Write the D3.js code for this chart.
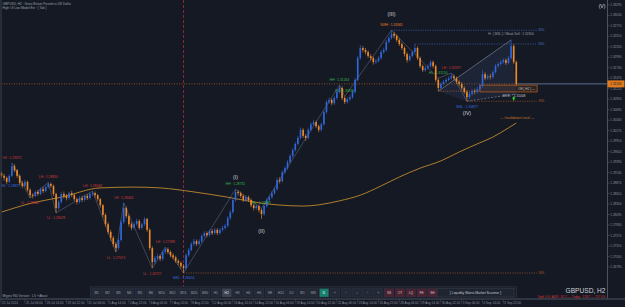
<!DOCTYPE html>
<html>
<head>
<meta charset="utf-8">
<script src="https://cdn.jsdelivr.net/npm/d3@7"></script>
<style>
html, body { margin: 0; padding: 0; background: #151924; }
svg { display: block; }
text { font-family: "Liberation Sans", Arial, sans-serif; }
</style>
</head>
<body>
<div id="chart"></div>
<script>
// GBPUSD H2 - price data (one candle per ~4h of the picture)
const firstOpen = 1.2912;
const closes = [
  1.2905,1.2900,1.2890,1.2905,1.2929,1.2919,1.2905,1.2887,1.2880,1.2890,
  1.2870,1.2857,1.2855,1.2865,1.2860,1.2872,1.2867,1.2877,1.2885,1.2880,
  1.2860,1.2825,1.2840,1.2860,1.2855,1.2850,1.2862,1.2857,1.2847,1.2840,
  1.2850,1.2845,1.2855,1.2850,1.2860,1.2862,1.2857,1.2847,1.2832,1.2808,
  1.2785,1.2766,1.2751,1.2736,1.2726,1.2746,1.2790,1.2825,1.2805,1.2785,
  1.2776,1.2785,1.2793,1.2776,1.2785,1.2798,1.2771,1.2726,1.2691,1.2701,
  1.2706,1.2699,1.2716,1.2723,1.2716,1.2708,1.2703,1.2694,1.2689,1.2681,
  1.2676,1.2708,1.2721,1.2736,1.2743,1.2736,1.2743,1.2756,1.2763,1.2758,
  1.2768,1.2763,1.2771,1.2763,1.2771,1.2776,1.2781,1.2800,1.2815,1.2845,
  1.2865,1.2862,1.2855,1.2845,1.2852,1.2845,1.2832,1.2825,1.2830,1.2820,
  1.2810,1.2830,1.2845,1.2852,1.2862,1.2872,1.2895,1.2892,1.2914,1.2924,
  1.2939,1.2954,1.2969,1.2984,1.2999,1.3019,1.3004,1.2999,1.3019,1.3033,
  1.3038,1.3028,1.3019,1.3033,1.3063,1.3088,1.3093,1.3085,1.3098,1.3113,
  1.3123,1.3098,1.3088,1.3095,1.3100,1.3113,1.3143,1.3197,1.3222,1.3217,
  1.3212,1.3202,1.3197,1.3187,1.3190,1.3197,1.3212,1.3217,1.3237,1.3247,
  1.3257,1.3252,1.3242,1.3232,1.3222,1.3207,1.3192,1.3202,1.3212,1.3222,
  1.3197,1.3177,1.3167,1.3172,1.3177,1.3187,1.3177,1.3143,1.3123,1.3133,
  1.3138,1.3143,1.3147,1.3152,1.3147,1.3138,1.3133,1.3123,1.3113,1.3100,
  1.3108,1.3115,1.3113,1.3120,1.3128,1.3157,1.3147,1.3152,1.3150,1.3162,
  1.3177,1.3182,1.3187,1.3192,1.3185,1.3197,1.3227,1.3187,1.3133
];
const highs = [
  1.2916,1.2910,1.2903,1.2909,1.2937,1.2934,1.2922,1.2908,1.2892,1.2895,
  1.2893,1.2874,1.2862,1.2869,1.2870,1.2876,1.2878,1.2881,1.2889,1.2888,
  1.2883,1.2863,1.2845,1.2865,1.2866,1.2860,1.2866,1.2868,1.2861,1.2851,
  1.2855,1.2856,1.2859,1.2860,1.2864,1.2867,1.2866,1.2860,1.2850,1.2835,
  1.2812,1.2790,1.2771,1.2756,1.2741,1.2750,1.2796,1.2838,1.2829,1.2809,
  1.2790,1.2790,1.2799,1.2797,1.2789,1.2803,1.2801,1.2775,1.2730,1.2706,
  1.2712,1.2710,1.2720,1.2728,1.2727,1.2720,1.2713,1.2707,1.2698,1.2693,
  1.2686,1.2713,1.2726,1.2741,1.2749,1.2747,1.2748,1.2760,1.2768,1.2767,
  1.2772,1.2773,1.2776,1.2775,1.2775,1.2781,1.2786,1.2805,1.2820,1.2850,
  1.2872,1.2870,1.2866,1.2859,1.2857,1.2856,1.2849,1.2836,1.2835,1.2834,
  1.2824,1.2835,1.2850,1.2857,1.2867,1.2877,1.2900,1.2902,1.2919,1.2929,
  1.2944,1.2959,1.2974,1.2989,1.3004,1.3025,1.3023,1.3009,1.3024,1.3038,
  1.3044,1.3042,1.3032,1.3037,1.3068,1.3093,1.3099,1.3097,1.3103,1.3118,
  1.3130,1.3127,1.3102,1.3100,1.3105,1.3118,1.3148,1.3203,1.3229,1.3227,
  1.3222,1.3216,1.3207,1.3201,1.3195,1.3202,1.3217,1.3223,1.3242,1.3252,
  1.3266,1.3262,1.3256,1.3246,1.3236,1.3226,1.3211,1.3207,1.3217,1.3232,
  1.3226,1.3201,1.3181,1.3177,1.3182,1.3192,1.3191,1.3181,1.3147,1.3138,
  1.3143,1.3148,1.3152,1.3160,1.3157,1.3151,1.3142,1.3137,1.3127,1.3117,
  1.3113,1.3120,1.3121,1.3125,1.3133,1.3167,1.3162,1.3157,1.3158,1.3167,
  1.3182,1.3187,1.3192,1.3197,1.3196,1.3202,1.3242,1.3232,1.3191
];
const lows = [
  1.2900,1.2893,1.2884,1.2887,1.2902,1.2914,1.2900,1.2882,1.2874,1.2876,
  1.2866,1.2850,1.2849,1.2852,1.2855,1.2857,1.2862,1.2864,1.2873,1.2875,
  1.2855,1.2813,1.2820,1.2836,1.2849,1.2844,1.2846,1.2852,1.2842,1.2834,
  1.2836,1.2840,1.2841,1.2845,1.2846,1.2855,1.2851,1.2842,1.2826,1.2802,
  1.2779,1.2760,1.2744,1.2729,1.2716,1.2721,1.2742,1.2786,1.2800,1.2779,
  1.2770,1.2772,1.2781,1.2771,1.2772,1.2781,1.2766,1.2720,1.2676,1.2686,
  1.2696,1.2693,1.2695,1.2711,1.2711,1.2703,1.2698,1.2689,1.2683,1.2675,
  1.2664,1.2672,1.2704,1.2717,1.2731,1.2731,1.2732,1.2739,1.2752,1.2753,
  1.2754,1.2758,1.2759,1.2758,1.2759,1.2767,1.2772,1.2777,1.2796,1.2811,
  1.2840,1.2856,1.2850,1.2840,1.2841,1.2840,1.2827,1.2819,1.2820,1.2814,
  1.2798,1.2806,1.2826,1.2840,1.2848,1.2858,1.2868,1.2886,1.2888,1.2910,
  1.2920,1.2935,1.2950,1.2965,1.2980,1.2995,1.2999,1.2992,1.2995,1.3015,
  1.3029,1.3023,1.3013,1.3015,1.3029,1.3059,1.3083,1.3080,1.3081,1.3094,
  1.3109,1.3093,1.3083,1.3084,1.3091,1.3096,1.3109,1.3139,1.3192,1.3211,
  1.3206,1.3197,1.3191,1.3181,1.3182,1.3186,1.3193,1.3207,1.3213,1.3233,
  1.3243,1.3246,1.3237,1.3227,1.3217,1.3201,1.3186,1.3188,1.3198,1.3208,
  1.3192,1.3172,1.3162,1.3163,1.3168,1.3173,1.3172,1.3138,1.3115,1.3119,
  1.3129,1.3134,1.3139,1.3143,1.3142,1.3133,1.3128,1.3118,1.3108,1.3090,
  1.3096,1.3104,1.3107,1.3109,1.3116,1.3124,1.3142,1.3143,1.3144,1.3146,
  1.3158,1.3173,1.3178,1.3183,1.3180,1.3181,1.3193,1.3182,1.3127
];

// moving average, read at a few candles
const maIdx = [0,12,23,38,51,61,74,87,99,106,116,122,130,138,146,153,161,169,176,184,189,195,198];
const maVal = [1.2815,1.2838,1.2852,1.2875,1.2877,1.2875,1.2865,1.2852,1.2838,1.2833,1.2830,1.2833,
               1.2843,1.2857,1.2880,1.2902,1.2924,1.2942,1.2964,1.2987,1.3001,1.3024,1.3036];

// swing labels
const swingIdx  = [4,11,18,21,35,44,47,58,63,70,90,100,130,132,150,168,173,179];
const swingKind = ["LH","LL","LH","LL","LH","LL","LH","LL","LH","SWL","HH","HL","HH","HL","SWH","HL","LH","SWL"];
const swingText = ["1.29375","1.28462","1.28830","1.28078","1.28648","1.27073","1.28403","1.26727","1.27288",
                   "1.26654","1.28731","1.27987","1.31264","1.30830","1.32665","1.31150","1.31597","1.30877"];

// elliott wave labels
const waveIdx  = [90,100,150,179];
const waveText = ["(I)","(II)","(III)","(IV)"];

// liquidity levels
const levelName  = ["BSL","BSL","SSL","SSL"];
const levelPrice = [1.3266,1.3232,1.3090,1.2664];
const levelFrom  = [150,159,179,70];
const levelTo    = 206;

// order block
const obFrom = 184, obTop = 1.3130, obBottom = 1.3113;

// axis ticks
const priceTicks = ["1.33290","1.33030","1.32770","1.32510","1.32250","1.31990","1.31730","1.31470","1.31210",
  "1.30950","1.30690","1.30430","1.30170","1.29910","1.29650","1.29390","1.29130","1.28870","1.28610",
  "1.28350","1.28090","1.27830","1.27570","1.27310","1.27050","1.26790"];
const timeIdx = [0,9,17,25,33,41,49,57,65,73,81,89,97,105,113,121,129,137,145,153,161,169,177,185,193];
const timeLabels = ["22 Jul 2024","25 Jul 06:00","26 Jul 14:00","29 Jul 22:00","31 Jul 06:00","1 Aug 14:00",
  "2 Aug 22:00","6 Aug 06:00","7 Aug 14:00","8 Aug 22:00","12 Aug 06:00","13 Aug 14:00","14 Aug 22:00",
  "16 Aug 06:00","19 Aug 14:00","20 Aug 22:00","22 Aug 06:00","23 Aug 14:00","26 Aug 22:00","28 Aug 06:00",
  "29 Aug 14:00","30 Aug 22:00","3 Sep 06:00","4 Sep 14:00","5 Sep 22:00"];

// toolbar
const tfButtons = ["M1","M2","M3","M4","M5","M6","M10","M12","M15","M20","M30","H1","H2","H3","H4","H6","H8","H12","D1","W1","MN"];
const navButtons = ["3L","«","‹","○","›","»"];
const toolButtons = ["SS","OT","LQ","FE","SH"];

const priceTop = 1.3341, priceBottom = 1.2602;

var width = 625, height = 307;
var axisX = 607.5, axisY = 298.5;

var x = d3.scaleLinear().domain([0, 198]).range([1.5, 516.3]);
var y = d3.scaleLinear().domain([priceBottom, priceTop]).range([298, 0]);

var bull = "#3068dc", bear = "#ef8a2a";
var red = "#d03a3a", green = "#34b84a", blue = "#3a6ee0", orange = "#e87d2a";

var svg = d3.select("#chart").append("svg")
    .attr("width", width)
    .attr("height", height);

svg.append("rect").attr("width", width).attr("height", height).attr("fill", "#151924");

// header
svg.append("text").attr("x", 2.5).attr("y", 5).attr("font-size", 3.2).attr("fill", "#9aa0ab")
  .text("GBPUSD, H2 : Great Britain Pound vs US Dollar");
svg.append("text").attr("x", 2.5).attr("y", 8.6).attr("font-size", 3.2).attr("fill", "#9aa0ab")
  .text("High Of Low Model Ext : [ Tab ]");

// red vertical at the swing low
svg.append("line")
  .attr("x1", x(70)).attr("x2", x(70)).attr("y1", 0).attr("y2", axisY)
  .attr("stroke", "#a8283a").attr("stroke-width", 0.8).attr("stroke-dasharray", "3,2");

// moving average
var maLine = d3.line().x((d, k) => x(maIdx[k])).y(d => y(d)).curve(d3.curveMonotoneX);
svg.append("path").datum(maVal).attr("d", maLine)
  .attr("fill", "none").attr("stroke", "#c08a2c").attr("stroke-width", 0.9);

// zigzag through swings
var zz = swingIdx.map((i, k) => [x(i), y(/H/.test(swingKind[k]) ? highs[i] : lows[i])]);
svg.append("path").attr("d", d3.line()(zz))
  .attr("fill", "none").attr("stroke", "#8fa3c4").attr("stroke-opacity", 0.55).attr("stroke-width", 0.6);

// wedge
var wedge = [[x(168), y(lows[168])], [x(196), y(highs[196])], [x(198), y(1.3108)], [x(179), y(lows[179])]];
svg.append("path").attr("d", "M" + wedge.join("L") + "Z")
  .attr("fill", "#5a78c0").attr("fill-opacity", 0.12).attr("stroke", "none");
svg.append("line").attr("x1", wedge[0][0]).attr("y1", wedge[0][1]).attr("x2", wedge[1][0]).attr("y2", wedge[1][1])
  .attr("stroke", "#9fb0d0").attr("stroke-width", 0.6).attr("stroke-opacity", 0.8);
svg.append("line").attr("x1", wedge[3][0]).attr("y1", wedge[3][1]).attr("x2", wedge[2][0]).attr("y2", wedge[2][1])
  .attr("stroke", "#9fb0d0").attr("stroke-width", 0.6).attr("stroke-opacity", 0.8).attr("stroke-dasharray", "2,1.5");

// current price dotted
var last = closes[closes.length - 1];
svg.append("line").attr("x1", x(0)).attr("x2", x(198)).attr("y1", y(last)).attr("y2", y(last))
  .attr("stroke", "#c0661e").attr("stroke-width", 0.7).attr("stroke-dasharray", "1,1.5");
svg.append("line").attr("x1", x(198)).attr("x2", axisX).attr("y1", y(last)).attr("y2", y(last))
  .attr("stroke", "#6a88a8").attr("stroke-width", 0.8);

// HL level into the order block
svg.append("line").attr("x1", x(168)).attr("x2", x(obFrom)).attr("y1", y(lows[168])).attr("y2", y(lows[168]))
  .attr("stroke", "#c0661e").attr("stroke-width", 0.7).attr("stroke-dasharray", "1,1.2");

// order block
svg.append("rect")
  .attr("x", x(obFrom)).attr("y", y(obTop))
  .attr("width", x(levelTo) - x(obFrom)).attr("height", y(obBottom) - y(obTop))
  .attr("fill", "#c8641e").attr("fill-opacity", 0.12)
  .attr("stroke", "#c8641e").attr("stroke-width", 0.7);
svg.append("text").attr("x", x(levelTo) - 2).attr("y", (y(obTop) + y(obBottom)) / 2 + 1.1)
  .attr("text-anchor", "end").attr("font-size", 3.2).attr("fill", "#c9c3bb").text("OB [ H2 ] —");

// liquidity levels
levelPrice.forEach(function(p, k) {
  var c = levelName[k] == "BSL" ? "#3f63b8" : "#a5562a";
  svg.append("line").attr("x1", x(levelFrom[k])).attr("x2", x(levelTo)).attr("y1", y(p)).attr("y2", y(p))
    .attr("stroke", c).attr("stroke-width", 0.7).attr("stroke-dasharray", "1.2,1.2");
  svg.append("text").attr("x", x(levelTo) + 1.5).attr("y", y(p) + 1.2)
    .attr("font-size", 3.4).attr("fill", c).text(levelName[k]);
});

svg.append("text").attr("x", x(196)).attr("y", y(highs[196]) - 4.5).attr("text-anchor", "middle")
  .attr("font-size", 3.2).attr("fill", "#9aa0ab").text("H : [ BSL ] / Weak Sell : 1.32300");

// candles
var candles = closes.map(function(c, i) {
  return { i: i, o: i ? closes[i - 1] : firstOpen, h: highs[i], l: lows[i], c: c };
});
var cg = svg.append("g");
cg.selectAll("line").data(candles).enter().append("line")
  .attr("x1", d => x(d.i)).attr("x2", d => x(d.i))
  .attr("y1", d => y(d.h)).attr("y2", d => y(d.l))
  .attr("stroke", d => d.c >= d.o ? bull : bear).attr("stroke-width", 0.6);
cg.selectAll("rect").data(candles).enter().append("rect")
  .attr("x", d => x(d.i) - 0.8).attr("width", 1.6)
  .attr("y", d => y(Math.max(d.o, d.c)))
  .attr("height", d => Math.max(0.6, Math.abs(y(d.o) - y(d.c))))
  .attr("fill", d => d.c >= d.o ? bull : bear);

// BOS text and arrow
svg.append("text").attr("x", x(196) + 3).attr("y", y(1.3108) + 2.6).attr("text-anchor", "middle")
  .attr("font-size", 3.2).attr("fill", "#c8ccd4").text("BOS↑ : 1.31008");
var ax = x(197), ay = y(lows[179]) - 2;
svg.append("path")
  .attr("d", `M${ax},${ay - 2.6}L${ax + 1.8},${ay - 0.6}L${ax + 0.6},${ay - 0.6}L${ax + 0.6},${ay + 1.2}L${ax - 0.6},${ay + 1.2}L${ax - 0.6},${ay - 0.6}L${ax - 1.8},${ay - 0.6}Z`)
  .attr("fill", "#2ee02e");

// invalidation level
svg.append("text").attr("x", x(198) + 1).attr("y", y(1.3046)).attr("text-anchor", "middle")
  .attr("font-size", 3.3).attr("fill", "#c87a2a").text("— Invalidation Level —");

// swing labels
swingIdx.forEach(function(i, k) {
  var kind = swingKind[k], up = /H/.test(kind);
  var col = kind == "SWL" ? blue : kind == "SWH" ? orange : (kind == "LH" || kind == "LL") ? red : green;
  svg.append("text")
    .attr("x", x(i)).attr("y", up ? y(highs[i]) - 4 : y(lows[i]) + 6.5)
    .attr("text-anchor", "middle").attr("font-size", 3.3).attr("fill", col)
    .text(kind + " : " + swingText[k]);
});
svg.append("text").attr("x", 1.5).attr("y", y(1.2881) + 1.2)
  .attr("font-size", 3.3).attr("fill", blue).text("HL : 1.28875");

// wave labels
waveIdx.forEach(function(i, k) {
  var up = k % 2 == 0;
  svg.append("text")
    .attr("x", x(i)).attr("y", up ? y(highs[i]) - (k == 2 ? 14 : 10) : y(lows[i]) + 14)
    .attr("text-anchor", "middle").attr("font-size", 5.2).attr("fill", "#d6d8de")
    .text(waveText[k]);
});
svg.append("text").attr("x", x(231)).attr("y", y(1.3321)).attr("text-anchor", "middle")
  .attr("font-size", 5.2).attr("fill", "#d6d8de").text("(V)");

// price axis
svg.append("line").attr("x1", axisX).attr("x2", axisX).attr("y1", 0).attr("y2", axisY)
  .attr("stroke", "#4c5262").attr("stroke-width", 1);
priceTicks.forEach(function(t) {
  var yy = y(+t);
  svg.append("line").attr("x1", axisX).attr("x2", axisX + 2).attr("y1", yy).attr("y2", yy)
    .attr("stroke", "#5a6070").attr("stroke-width", 0.6);
  svg.append("text").attr("x", axisX + 2.8).attr("y", yy + 1.1)
    .attr("font-size", 3.1).attr("fill", "#8d93a0").text(t);
});
svg.append("rect").attr("x", axisX).attr("y", y(last) - 3.5).attr("width", 17).attr("height", 7)
  .attr("fill", "#e07a1e");
svg.append("text").attr("x", axisX + 2.8).attr("y", y(last) + 1.2)
  .attr("font-size", 3.1).attr("fill", "#1a1a1a").text(d3.format(".5f")(last));

// time axis
svg.append("line").attr("x1", 0).attr("x2", width).attr("y1", axisY + 0.5).attr("y2", axisY + 0.5)
  .attr("stroke", "#4c5262").attr("stroke-width", 1);
timeLabels.forEach(function(t, k) {
  var xx = k == 0 ? 1 : x(timeIdx[k]);
  svg.append("line").attr("x1", xx).attr("x2", xx).attr("y1", axisY + 1).attr("y2", axisY + 5)
    .attr("stroke", "#5a6070").attr("stroke-width", 0.5);
  svg.append("text").attr("x", xx + 1).attr("y", axisY + 5.2)
    .attr("font-size", 3.1).attr("fill", "#8d93a0").text(t);
});

// toolbar
var bw = 10.83, b0 = 96.7, by = 288.6, bh = 8.4;
svg.append("rect").attr("x", 90.5).attr("y", 286.8).attr("width", 426).attr("height", 11.7)
  .attr("fill", "#1b1f2b").attr("stroke", "#333947").attr("stroke-width", 0.6);
var allButtons = tfButtons.concat(navButtons, toolButtons);
allButtons.forEach(function(b, k) {
  var cx = b0 + k * bw;
  var fill = "#232836", tc = "#9aa0ab";
  if (b == "H2") { fill = "#3d4353"; tc = "#e0e2e8"; }
  if (k == tfButtons.length) { fill = "#17806c"; tc = "#e8f4f0"; }
  if (k >= tfButtons.length + navButtons.length) { fill = "#4a2232"; tc = "#d8c8cc"; }
  svg.append("rect").attr("x", cx - 4.7).attr("y", by).attr("width", 9.4).attr("height", bh)
    .attr("fill", fill).attr("stroke", "#343a48").attr("stroke-width", 0.4);
  svg.append("text").attr("x", cx).attr("y", by + bh / 2 + 1.2).attr("text-anchor", "middle")
    .attr("font-size", 3.2).attr("fill", tc).text(b);
});
svg.append("rect").attr("x", 437).attr("y", by).attr("width", 77).attr("height", bh)
  .attr("fill", "#1f2431").attr("stroke", "#3a404e").attr("stroke-width", 0.5);
svg.append("text").attr("x", 475.5).attr("y", by + bh / 2 + 1.2).attr("text-anchor", "middle")
  .attr("font-size", 3.4).attr("fill", "#c4c8d0").text("[ Liquidity Matrix Market Scanner ]");

svg.append("text").attr("x", 2.5).attr("y", 296.6).attr("font-size", 3.1).attr("fill", "#9aa0ab")
  .text("Mtypro 960 Version : 1.6  »  About");

// symbol box
svg.append("text").attr("x", 605.5).attr("y", 293).attr("text-anchor", "end")
  .attr("font-size", 6.6).attr("fill", "#d0d3da").text("GBPUSD, H2");
svg.append("text").attr("x", 605.5).attr("y", 297.6).attr("text-anchor", "end")
  .attr("font-size", 3.1).attr("fill", "#d8383a").text("Spd: 0.6 | ADR : 82.2 — Today : 128.7 — 157.0%");

// frame
svg.append("line").attr("x1", 1).attr("x2", 1).attr("y1", 0).attr("y2", axisY)
  .attr("stroke", "#3a404e").attr("stroke-width", 1);
</script>
</body>
</html>
